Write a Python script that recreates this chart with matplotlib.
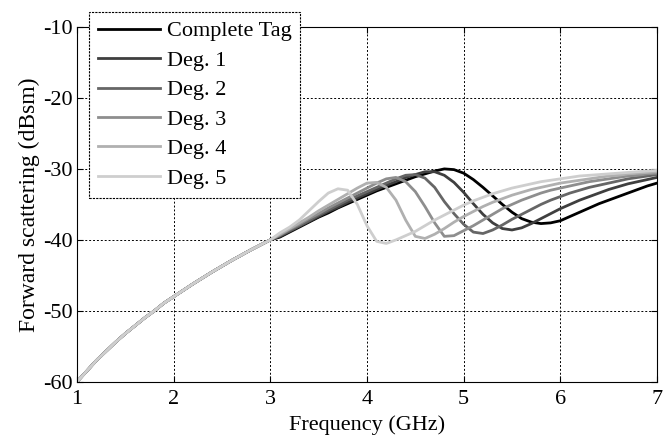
import matplotlib
matplotlib.use("Agg")
import matplotlib.pyplot as plt

# shared low-frequency part (all curves overlap here)
freq_lo = [1.0, 1.1, 1.2, 1.3, 1.4, 1.5, 1.6, 1.7, 1.8, 1.9, 2.0,
           2.2, 2.4, 2.6, 2.8, 3.0]
rcs_lo = [-60.0, -58.5, -57.0, -55.7, -54.4, -53.2, -52.1, -51.0, -50.0, -48.9, -48.0,
          -46.2, -44.5, -42.9, -41.4, -40.0]

freq_hi = [3.1, 3.2, 3.3, 3.4, 3.5, 3.6, 3.7, 3.8, 3.9, 4.0,
           4.1, 4.2, 4.3, 4.4, 4.5, 4.6, 4.7, 4.8, 4.9, 5.0,
           5.1, 5.2, 5.3, 5.4, 5.5, 5.6, 5.7, 5.8, 5.9, 6.0,
           6.1, 6.2, 6.3, 6.4, 6.5, 6.6, 6.7, 6.8, 6.9, 7.0]

complete_tag = [-39.6, -38.9, -38.2, -37.5, -36.8, -36.2, -35.5, -34.9, -34.3, -33.7,
                -33.1, -32.6, -32.1, -31.6, -31.1, -30.7, -30.3, -30.0, -30.1, -30.6,
                -31.5, -32.6, -33.8, -35.0, -36.1, -37.0, -37.5, -37.7, -37.6, -37.3,
                -36.7, -36.1, -35.5, -34.9, -34.4, -33.9, -33.4, -32.9, -32.4, -32.0]
deg1 = [-39.5, -38.8, -38.1, -37.4, -36.7, -36.0, -35.4, -34.7, -34.1, -33.5,
        -32.9, -32.3, -31.8, -31.2, -30.8, -30.4, -30.4, -30.9, -31.9, -33.3,
        -34.9, -36.4, -37.6, -38.4, -38.6, -38.3, -37.7, -37.0, -36.3, -35.6,
        -35.0, -34.4, -33.9, -33.4, -32.9, -32.5, -32.1, -31.8, -31.5, -31.2]
deg2 = [-39.4, -38.7, -38.0, -37.3, -36.5, -35.8, -35.1, -34.4, -33.8, -33.2,
        -32.6, -32.0, -31.4, -30.9, -30.8, -31.3, -32.6, -34.6, -36.3, -37.8,
        -38.9, -39.1, -38.6, -37.9, -37.1, -36.4, -35.7, -35.0, -34.4, -33.9,
        -33.4, -33.0, -32.6, -32.3, -32.0, -31.7, -31.4, -31.2, -31.0, -30.8]
deg3 = [-39.3, -38.5, -37.8, -37.0, -36.3, -35.5, -34.8, -34.1, -33.4, -32.7,
        -32.0, -31.4, -31.2, -31.8, -33.2, -35.3, -37.6, -39.5, -39.4, -38.7,
        -38.0, -37.2, -36.4, -35.6, -35.0, -34.4, -33.9, -33.4, -33.0, -32.7,
        -32.4, -32.1, -31.8, -31.6, -31.4, -31.2, -31.0, -30.9, -30.7, -30.6]
deg4 = [-39.2, -38.4, -37.6, -36.8, -35.9, -35.1, -34.3, -33.5, -32.7, -32.0,
        -31.9, -32.6, -34.4, -37.2, -39.5, -39.8, -39.2, -38.4, -37.5, -36.7,
        -36.0, -35.3, -34.7, -34.2, -33.7, -33.3, -32.9, -32.6, -32.3, -32.0,
        -31.8, -31.6, -31.4, -31.2, -31.0, -30.9, -30.7, -30.6, -30.5, -30.4]
deg5 = [-39.0, -38.2, -37.2, -35.9, -34.6, -33.4, -32.8, -33.0, -35.0, -38.0,
        -40.2, -40.5, -40.0, -39.4, -38.8, -38.0, -37.2, -36.5, -35.8, -35.1,
        -34.5, -34.0, -33.5, -33.1, -32.7, -32.4, -32.1, -31.8, -31.6, -31.4,
        -31.2, -31.0, -30.9, -30.8, -30.7, -30.6, -30.5, -30.4, -30.3, -30.2]

labels = ["Complete Tag", "Deg. 1", "Deg. 2", "Deg. 3", "Deg. 4", "Deg. 5"]
series = [complete_tag, deg1, deg2, deg3, deg4, deg5]
colors = ["#000000", "#3f3f3f", "#666666", "#8e8e8e", "#b0b0b0", "#cecece"]

plt.rcParams["font.family"] = ["Liberation Serif", "DejaVu Serif"]
plt.rcParams["font.size"] = 16
plt.rcParams["axes.unicode_minus"] = False

fig = plt.figure(figsize=(6.63, 4.41), dpi=100)
ax = fig.add_axes([0.116, 0.134, 0.875, 0.805])

freq = freq_lo + freq_hi
for vals, lab, col in zip(series, labels, colors):
    ax.plot(freq, rcs_lo + vals, color=col, lw=2, label=lab)

ax.set_xlim(1, 7)
ax.set_ylim(-60, -10)
ax.set_xticks(range(1, 8))
ax.set_yticks(range(-60, -9, 10))
ax.grid(True, color="black", linestyle=(0, (2, 2)), linewidth=0.7)
ax.tick_params(direction="in", length=4, width=0.8, top=True, right=True, pad=3)
ax.tick_params(axis="x", pad=6)
for sp in ax.spines.values():
    sp.set_linewidth(0.8)
ax.set_xlabel("Frequency (GHz)", labelpad=4)
ax.set_ylabel("Forward scattering (dBsm)", labelpad=2, fontsize=17)

leg = ax.legend(loc="upper left", bbox_to_anchor=(89 / 663, 1 - 12 / 441),
                bbox_transform=fig.transFigure, fancybox=False, framealpha=1,
                edgecolor="black", handlelength=2.8, handletextpad=0.3,
                labelspacing=0.4, borderpad=0.4, borderaxespad=0)
leg.get_frame().set_linewidth(0.8)
leg.get_frame().set_linestyle((0, (2, 1)))
leg.set_zorder(5)

fig.savefig("out.png", dpi=100)
